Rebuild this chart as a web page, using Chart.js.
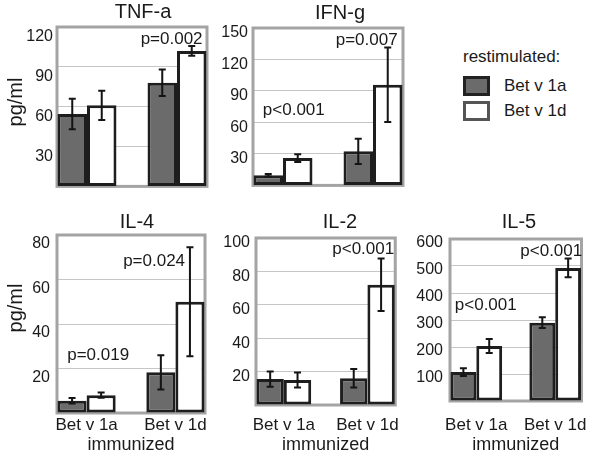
<!DOCTYPE html>
<html>
<head>
<meta charset="utf-8">
<script src="https://cdn.jsdelivr.net/npm/chart.js@4.4.1/dist/chart.umd.min.js"></script>
<style>
  body { margin: 0; background: #fff; width: 601px; height: 456px; position: relative; overflow: hidden;
         font-family: "Liberation Sans", Arial, sans-serif; color: #1a1a1a; }
  canvas { position: absolute; }
  .lg { position: absolute; font-size: 17px; line-height: 20px; white-space: nowrap; }
  .sw { position: absolute; width: 27px; height: 20px; box-sizing: border-box; border: 3px solid #222; }
</style>
</head>
<body>
<script>
// x axis groups (immunized with) and the restimulation series
var groups = ['Bet v 1a', 'Bet v 1d'];
var series = ['Bet v 1a', 'Bet v 1d'];

// TNF-a, pg/ml (mean and error)
var tnfA = [54.5, 78];
var tnfAErr = [11.5, 10];
var tnfD = [61, 102];
var tnfDErr = [11, 3.7];

// IFN-g
var ifnA = [9.7, 32.5];
var ifnAErr = [1.2, 12];
var ifnD = [26, 96];
var ifnDErr = [3.7, 35.5];

// IL-4
var il4A = [5.5, 18.3];
var il4AErr = [1.2, 7.7];
var il4D = [8, 50];
var il4DErr = [1.2, 24.5];

// IL-2
var il2A = [15.5, 16];
var il2AErr = [4.5, 5.5];
var il2D = [15, 72];
var il2DErr = [4.5, 15.7];

// IL-5
var il5A = [107, 290];
var il5AErr = [14, 20];
var il5D = [204, 493];
var il5DErr = [26, 35];

var FONT = '"Liberation Sans", Arial, sans-serif';
var INK = '#1a1a1a';

// box, error bars, p values and titles
var panelDecor = {
    id: 'panelDecor',
    beforeDatasetsDraw: function(chart) {
        var a = chart.chartArea, ctx = chart.ctx;
        ctx.save();
        ctx.strokeStyle = '#a4a4a4';
        ctx.lineWidth = 3;
        ctx.strokeRect(a.left, a.top, a.right - a.left, a.bottom - a.top);
        ctx.restore();
    },
    afterDatasetsDraw: function(chart, args, opts) {
        var ctx = chart.ctx, x = chart.scales.x, y = chart.scales.y;
        ctx.save();
        ctx.strokeStyle = '#141414';
        ctx.lineWidth = 2;
        chart.data.datasets.forEach(function(ds, i) {
            chart.getDatasetMeta(i).data.forEach(function(bar, j) {
                var v = ds.data[j].y, e = ds.err[j];
                var top = y.getPixelForValue(v + e), bot = y.getPixelForValue(v - e);
                ctx.beginPath();
                ctx.moveTo(bar.x, top); ctx.lineTo(bar.x, bot);
                ctx.moveTo(bar.x - 3.5, top); ctx.lineTo(bar.x + 3.5, top);
                ctx.moveTo(bar.x - 3.5, bot); ctx.lineTo(bar.x + 3.5, bot);
                ctx.stroke();
            });
        });
        ctx.fillStyle = INK;
        ctx.font = '17px ' + FONT;
        ctx.textAlign = 'center';
        ctx.textBaseline = 'middle';
        (opts.pvals || []).forEach(function(p) {
            ctx.fillText(p.text, x.getPixelForValue(p.x), y.getPixelForValue(p.y));
        });
        ctx.restore();
    },
    afterDraw: function(chart, args, opts) {
        var ctx = chart.ctx;
        ctx.save();
        ctx.fillStyle = INK;
        ctx.textAlign = 'center';
        ctx.textBaseline = 'middle';
        ctx.font = '20px ' + FONT;
        ctx.fillText(opts.title, opts.titleX, opts.titleY);
        if (opts.yTitle) {
            ctx.translate(opts.yTitle[0], opts.yTitle[1]);
            ctx.rotate(-Math.PI / 2);
            ctx.fillText('pg/ml', 0, 0);
        }
        ctx.restore();
    }
};

function points(vals) {
    return vals.map(function(v, i) { return {x: i, y: v}; });
}

function makePanel(p) {
    var canvas = document.createElement('canvas');
    canvas.width = p.w;
    canvas.height = p.h;
    canvas.style.left = p.left + 'px';
    canvas.style.top = p.top + 'px';
    canvas.style.width = p.w + 'px';
    canvas.style.height = p.h + 'px';
    document.body.appendChild(canvas);

    var data = {
        datasets: [
            { label: series[0], data: points(p.a), err: p.aErr, backgroundColor: '#6b6b6b',
              borderColor: '#1e1e1e', borderWidth: 3, borderSkipped: false },
            { label: series[1], data: points(p.d), err: p.dErr, backgroundColor: '#ffffff',
              borderColor: '#1e1e1e', borderWidth: 3, borderSkipped: false }
        ]
    };

    var options = {
        responsive: false,
        animation: false,
        events: [],
        layout: { padding: { left: 0, top: p.padTop, right: p.padRight, bottom: p.padBottom } },
        datasets: { bar: { categoryPercentage: 0.655, barPercentage: 1 } },
        plugins: {
            legend: { display: false },
            tooltip: { enabled: false },
            title: { display: false },
            panelDecor: { title: p.title, titleX: p.titleX, titleY: p.titleY, yTitle: p.yTitle, pvals: p.pvals }
        },
        scales: {
            x: {
                type: 'linear', min: -1 / 3, max: 4 / 3, bounds: 'data', offset: false,
                grid: { display: false, drawTicks: false, offset: false },
                border: { display: false },
                afterBuildTicks: function(s) { s.ticks = groups.map(function(g, i) { return {value: i}; }); },
                afterFit: function(s) { s.height = p.xHeight; },
                ticks: { display: p.xLabels, autoSkip: false, maxRotation: 0, padding: p.xPad, color: INK,
                         font: { family: FONT, size: 17 },
                         callback: function(v) { return groups[v]; } },
                title: { display: p.xLabels, text: 'immunized', color: INK, padding: { top: 0, bottom: 0 },
                         font: { family: FONT, size: 18 } }
            },
            y: {
                min: 0, max: p.yMax,
                grid: { color: '#c6c6c6', lineWidth: 1, drawTicks: false },
                border: { display: false },
                afterFit: function(s) { s.width = p.yWidth; },
                ticks: { stepSize: p.yStep, padding: p.yPad, labelOffset: p.labelOffset, color: INK,
                         font: { family: FONT, size: 16 },
                         callback: function(v) { return v === 0 ? '' : String(v); } }
            }
        }
    };

    return new Chart(canvas.getContext('2d'), { type: 'bar', data: data, options: options, plugins: [panelDecor] });
}

makePanel({ left: 0, top: 0, w: 215, h: 200, yWidth: 57, padTop: 27, padRight: 8, padBottom: 3, xHeight: 0,
    xLabels: false, xPad: 0, yMax: 120, yStep: 30, yPad: 4, labelOffset: 10,
    a: tnfA, aErr: tnfAErr, d: tnfD, dErr: tnfDErr,
    title: 'TNF-a', titleX: 143, titleY: 12, yTitle: [16, 102],
    pvals: [{ text: 'p=0.002', x: 0.94, y: 111 }] });

makePanel({ left: 215, top: 0, w: 195, h: 200, yWidth: 38, padTop: 28, padRight: 7, padBottom: 9, xHeight: 0,
    xLabels: false, xPad: 0, yMax: 150, yStep: 30, yPad: 5, labelOffset: 5,
    a: ifnA, aErr: ifnAErr, d: ifnD, dErr: ifnDErr,
    title: 'IFN-g', titleX: 125, titleY: 13, yTitle: null,
    pvals: [{ text: 'p<0.001', x: 0.12, y: 72 }, { text: 'p=0.007', x: 0.93, y: 138 }] });

makePanel({ left: 0, top: 205, w: 212, h: 251, yWidth: 57, padTop: 30, padRight: 7, padBottom: 0, xHeight: 43,
    xLabels: true, xPad: 2, yMax: 80, yStep: 20, yPad: 7, labelOffset: 9,
    a: il4A, aErr: il4AErr, d: il4D, dErr: il4DErr,
    title: 'IL-4', titleX: 137, titleY: 17, yTitle: [16, 103],
    pvals: [{ text: 'p=0.019', x: 0.13, y: 26 }, { text: 'p=0.024', x: 0.76, y: 68 }] });

makePanel({ left: 212, top: 205, w: 198, h: 251, yWidth: 44, padTop: 33, padRight: 7, padBottom: 0, xHeight: 51,
    xLabels: true, xPad: 10, yMax: 100, yStep: 20, yPad: 6, labelOffset: 5,
    a: il2A, aErr: il2AErr, d: il2D, dErr: il2DErr,
    title: 'IL-2', titleX: 128, titleY: 17, yTitle: null,
    pvals: [{ text: 'p<0.001', x: 0.95, y: 93 }] });

makePanel({ left: 410, top: 205, w: 191, h: 251, yWidth: 40, padTop: 34, padRight: 3, padBottom: 0, xHeight: 55,
    xLabels: true, xPad: 14, yMax: 600, yStep: 100, yPad: 7, labelOffset: 4,
    a: il5A, aErr: il5AErr, d: il5D, dErr: il5DErr,
    title: 'IL-5', titleX: 109, titleY: 17, yTitle: null,
    pvals: [{ text: 'p<0.001', x: 0.12, y: 355 }, { text: 'p<0.001', x: 0.95, y: 555 }] });

// legend
function addDiv(cls, css, text) {
    var d = document.createElement('div');
    d.className = cls;
    d.style.cssText = css;
    if (text) d.textContent = text;
    document.body.appendChild(d);
}
addDiv('lg', 'left:463px;top:47px;', 'restimulated:');
addDiv('sw', 'left:463px;top:76px;background:#6b6b6b;border-color:#222;');
addDiv('sw', 'left:463px;top:101px;background:#fff;border-color:#555;');
addDiv('lg', 'left:504px;top:76px;', series[0]);
addDiv('lg', 'left:504px;top:101px;', series[1]);
</script>
</body>
</html>
